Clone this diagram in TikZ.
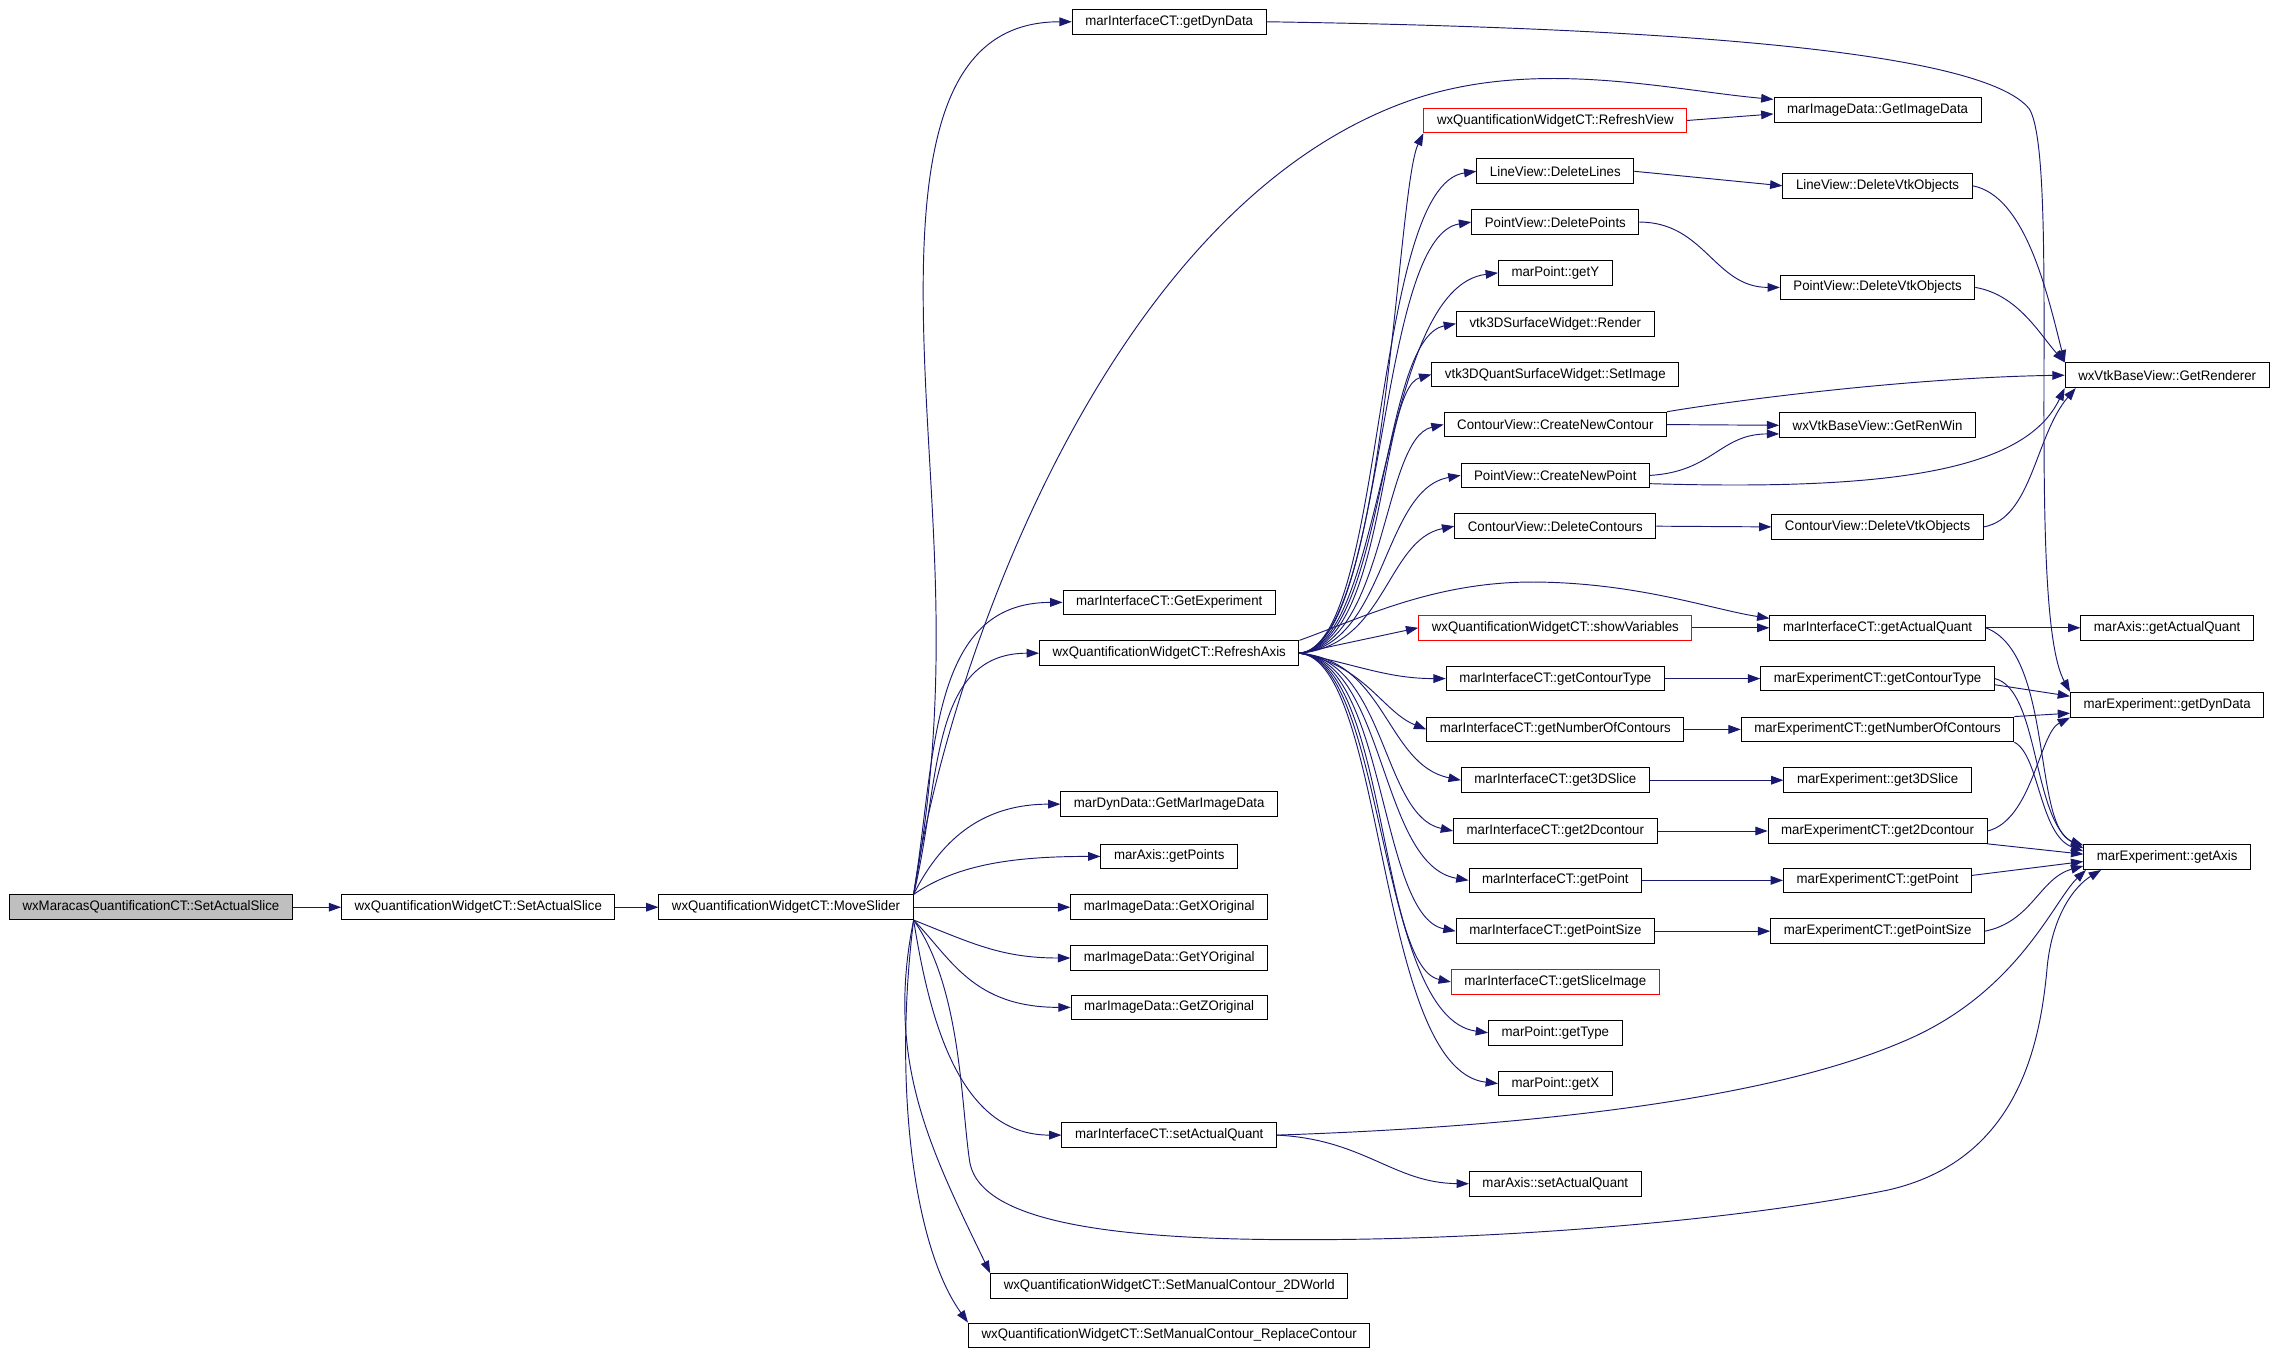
\documentclass[tikz,border=0pt]{standalone}
\usepackage{fontspec}
\setmainfont{Liberation Sans}[FakeStretch=0.96]
\usepackage{tikz}
\usetikzlibrary{arrows.meta}
\definecolor{edgeblue}{HTML}{191970}
\definecolor{rootgray}{HTML}{BFBFBF}

\begin{document}
\begin{tikzpicture}[x=1pt,y=-1pt,
    >={Triangle[length=8.5pt,width=6pt]},
    fn/.style={draw=black,line width=0.7pt,inner xsep=9pt,inner ysep=0pt,minimum height=17pt,font=\fontsize{9.5}{11}\selectfont},
    trunc/.style={fn,draw=red},
    root/.style={fn,fill=rootgray},
    call/.style={->,color=edgeblue,line width=0.65pt}]
    \useasboundingbox (0,0) rectangle (1568,936);

    % 节点
\node[root] (wmq) at (104,625) {wxMaracasQuantificationCT::SetActualSlice};
\node[fn] (wsa) at (329.5,625) {wxQuantificationWidgetCT::SetActualSlice};
\node[fn] (mvs) at (541.5,625) {wxQuantificationWidgetCT::MoveSlider};

\node[fn] (idyn) at (805.5,15) {marInterfaceCT::getDynData};
\node[fn] (iexp) at (805.5,415) {marInterfaceCT::GetExperiment};
\node[fn] (rax) at (805.5,450) {wxQuantificationWidgetCT::RefreshAxis};
\node[fn] (dmid) at (805.5,554) {marDynData::GetMarImageData};
\node[fn] (apts) at (805.5,590) {marAxis::getPoints};
\node[fn] (xorg) at (805.5,625) {marImageData::GetXOriginal};
\node[fn] (yorg) at (805.5,660) {marImageData::GetYOriginal};
\node[fn] (zorg) at (805.5,694) {marImageData::GetZOriginal};
\node[fn] (isaq) at (805.5,782) {marInterfaceCT::setActualQuant};
\node[fn] (mc2d) at (805.5,886) {wxQuantificationWidgetCT::SetManualContour\_2DWorld};
\node[fn] (mcrc) at (805.5,920) {wxQuantificationWidgetCT::SetManualContour\_ReplaceContour};

\node[trunc] (rview) at (1071.5,83) {wxQuantificationWidgetCT::RefreshView};
\node[fn] (dlines) at (1071.5,118) {LineView::DeleteLines};
\node[fn] (dpts) at (1071.5,153) {PointView::DeletePoints};
\node[fn] (gety) at (1071.5,188) {marPoint::getY};
\node[fn] (rend) at (1071.5,223) {vtk3DSurfaceWidget::Render};
\node[fn] (simg) at (1071.5,258) {vtk3DQuantSurfaceWidget::SetImage};
\node[fn] (ncont) at (1071.5,292.5) {ContourView::CreateNewContour};
\node[fn] (npt) at (1071.5,327.5) {PointView::CreateNewPoint};
\node[fn] (dcont) at (1071.5,362.5) {ContourView::DeleteContours};
\node[trunc] (svar) at (1071.5,432.5) {wxQuantificationWidgetCT::showVariables};
\node[fn] (ictype) at (1071.5,467.5) {marInterfaceCT::getContourType};
\node[fn] (incont) at (1071.5,502.5) {marInterfaceCT::getNumberOfContours};
\node[fn] (i3d) at (1071.5,537.5) {marInterfaceCT::get3DSlice};
\node[fn] (i2d) at (1071.5,572.5) {marInterfaceCT::get2Dcontour};
\node[fn] (ipt) at (1071.5,606.5) {marInterfaceCT::getPoint};
\node[fn] (ipsz) at (1071.5,641.5) {marInterfaceCT::getPointSize};
\node[trunc] (islice) at (1071.5,676.5) {marInterfaceCT::getSliceImage};
\node[fn] (gtype) at (1071.5,711.5) {marPoint::getType};
\node[fn] (getx) at (1071.5,746.5) {marPoint::getX};
\node[fn] (asaq) at (1071.5,815.5) {marAxis::setActualQuant};

\node[fn] (gimg) at (1293.5,76) {marImageData::GetImageData};
\node[fn] (lvtk) at (1293.5,128) {LineView::DeleteVtkObjects};
\node[fn] (pvtk) at (1293.5,198) {PointView::DeleteVtkObjects};
\node[fn] (rwin) at (1293.5,293) {wxVtkBaseView::GetRenWin};
\node[fn] (cvtk) at (1293.5,363) {ContourView::DeleteVtkObjects};
\node[fn] (iaq) at (1293.5,432.5) {marInterfaceCT::getActualQuant};
\node[fn] (ectype) at (1293.5,467.5) {marExperimentCT::getContourType};
\node[fn] (encont) at (1293.5,502.5) {marExperimentCT::getNumberOfContours};
\node[fn] (e3d) at (1293.5,537.5) {marExperiment::get3DSlice};
\node[fn] (e2d) at (1293.5,572.5) {marExperimentCT::get2Dcontour};
\node[fn] (ept) at (1293.5,606.5) {marExperimentCT::getPoint};
\node[fn] (epsz) at (1293.5,641.5) {marExperimentCT::getPointSize};

\node[fn] (rndr) at (1493,258.5) {wxVtkBaseView::GetRenderer};
\node[fn] (aaq) at (1493,432.5) {marAxis::getActualQuant};
\node[fn] (edyn) at (1493,485.5) {marExperiment::getDynData};
\node[fn] (eaxis) at (1493,590.5) {marExperiment::getAxis};

    % 调用关系
\draw[call] (wmq) -- (wsa);
\draw[call] (wsa) -- (mvs);

\draw[call] (mvs.north east) .. controls (660,450) and (636,330) .. (636,200) .. controls (636,80) and (660,15) .. (idyn.west);
\draw[call] (mvs.north east) .. controls (650,470) and (760,140) .. (975,68) .. controls (1060,40) and (1150,62) .. (gimg.174);
\draw[call] (mvs.north east) .. controls (645,520) and (640,415) .. (iexp.west);
\draw[call] (mvs.north east) .. controls (648,540) and (640,450) .. (rax.west);
\draw[call] (mvs.north east) .. controls (650,575) and (680,554) .. (dmid.west);
\draw[call] (mvs.north east) .. controls (660,595) and (700,590) .. (apts.west);
\draw[call] (mvs) -- (xorg);
\draw[call] (mvs.south east) .. controls (670,650) and (690,660) .. (yorg.west);
\draw[call] (mvs.south east) .. controls (655,660) and (670,694) .. (zorg.west);
\draw[call] (mvs.south east) .. controls (640,700) and (660,782) .. (isaq.west);
\draw[call] (mvs.south east) .. controls (610,730) and (640,790) .. (mc2d.north west);
\draw[call] (mvs.south east) .. controls (615,750) and (630,860) .. (mcrc.north west);
\draw[call] (mvs.south east) .. controls (662,680) and (662,760) .. (668,800) .. controls (675,845) and (780,855) .. (914,854) .. controls (1050,853) and (1200,840) .. (1300,820) .. controls (1390,800) and (1405,720) .. (1410,670) .. controls (1413,630) and (1430,610) .. (eaxis.191);

\draw[call] (idyn.east) .. controls (1200,20) and (1370,40) .. (1398,75) .. controls (1420,110) and (1395,420) .. (edyn.north west);

\draw[call] (rax.east) .. controls (955,445) and (962,130) .. (rview.south west);
\draw[call] (rax.east) .. controls (955,445) and (945,128) .. (dlines.west);
\draw[call] (rax.east) .. controls (955,445) and (948,163) .. (dpts.west);
\draw[call] (rax.east) .. controls (955,445) and (950,198) .. (gety.west);
\draw[call] (rax.east) .. controls (955,445) and (950,233) .. (rend.west);
\draw[call] (rax.east) .. controls (955,445) and (950,268) .. (simg.west);
\draw[call] (rax.east) .. controls (955,445) and (952,302) .. (ncont.west);
\draw[call] (rax.east) .. controls (955,445) and (952,337) .. (npt.west);
\draw[call] (rax.east) .. controls (955,445) and (955,372) .. (dcont.west);
\draw[call] (rax.east) -- (svar.west);
\draw[call] (rax.east) .. controls +(40,8) and +(-40,0) .. (ictype.west);
\draw[call] (rax.east) .. controls +(45,8) and +(-30,-12) .. (incont.west);
\draw[call] (rax.east) .. controls (955,455) and (955,527) .. (i3d.west);
\draw[call] (rax.east) .. controls (955,455) and (952,562) .. (i2d.west);
\draw[call] (rax.east) .. controls (955,455) and (950,596) .. (ipt.west);
\draw[call] (rax.east) .. controls (955,455) and (950,631) .. (ipsz.west);
\draw[call] (rax.east) .. controls (955,455) and (950,666) .. (islice.west);
\draw[call] (rax.east) .. controls (955,455) and (948,701) .. (gtype.west);
\draw[call] (rax.east) .. controls (955,455) and (948,737) .. (getx.west);
\draw[call] (rax.north east) .. controls (940,425) and (990,400) .. (1060,401) .. controls (1130,402) and (1180,420) .. (iaq.175);

\draw[call] (rview.east) -- (gimg.182);
\draw[call] (dlines.east) -- (lvtk.west);
\draw[call] (dpts.east) .. controls +(45,0) and +(-45,0) .. (pvtk.west);
\draw[call] (ncont.east) -- (rwin.west);
\draw[call] (ncont.north east) .. controls (1200,275) and (1320,260) .. (rndr.west);
\draw[call] (npt.east) .. controls (1180,325) and (1185,299) .. (rwin.185);
\draw[call] (npt.-5) .. controls (1300,338) and (1395,325) .. (rndr.south west);
\draw[call] (dcont.east) -- (cvtk.west);
\draw[call] (cvtk.east) .. controls (1400,357) and (1402,300) .. (rndr.188);
\draw[call] (lvtk.east) .. controls (1395,135) and (1410,200) .. (rndr.north west);
\draw[call] (pvtk.east) .. controls (1390,203) and (1405,230) .. (rndr.north west);

\draw[call] (svar) -- (iaq);
\draw[call] (ictype) -- (ectype);
\draw[call] (incont) -- (encont);
\draw[call] (i3d) -- (e3d);
\draw[call] (i2d) -- (e2d);
\draw[call] (ipt) -- (ept);
\draw[call] (ipsz) -- (epsz);

\draw[call] (isaq.east) .. controls (940,785) and (960,815) .. (asaq.west);
\draw[call] (isaq.east) .. controls (1000,778) and (1200,765) .. (1310,718) .. controls (1390,685) and (1415,620) .. (eaxis.189);

\draw[call] (iaq) -- (aaq);
\draw[call] (iaq.east) .. controls (1415,450) and (1400,570) .. (eaxis.172);
\draw[call] (ectype.-3) -- (edyn.175);
\draw[call] (ectype.east) .. controls (1405,475) and (1400,565) .. (eaxis.174);
\draw[call] (encont.north east) -- (edyn.185);
\draw[call] (encont.south east) .. controls (1405,520) and (1405,575) .. (eaxis.176);
\draw[call] (e2d.east) .. controls (1400,565) and (1405,505) .. (edyn.south west);
\draw[call] (e2d.south east) -- (eaxis.178);
\draw[call] (ept.3) -- (eaxis.183);
\draw[call] (epsz.east) .. controls (1400,635) and (1405,605) .. (eaxis.186);
\end{tikzpicture}
\end{document}
